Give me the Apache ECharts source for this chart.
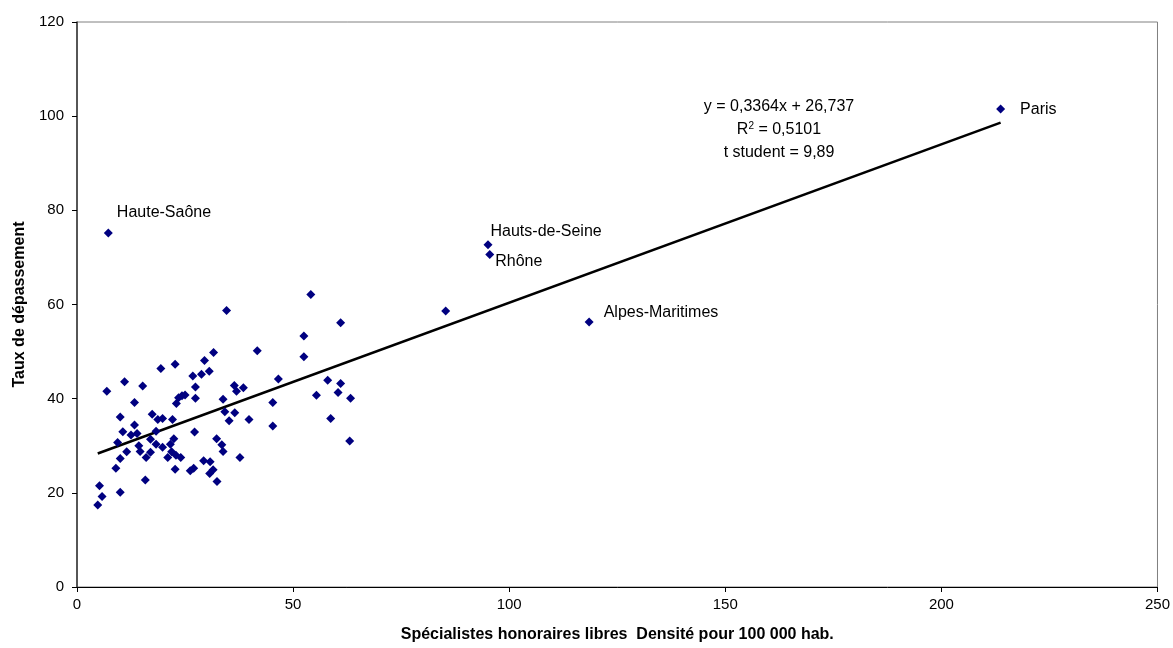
<!DOCTYPE html>
<html>
<head>
<meta charset="utf-8">
<script src="https://cdn.jsdelivr.net/npm/echarts@6/dist/echarts.min.js"></script>
<style>html,body{margin:0;padding:0;background:#fff;}#c{width:1173px;height:648px;}</style>
</head>
<body>
<div id="c"></div>
<script>
// Département points (x: spécialistes honoraires libres pour 100 000 hab., y: taux de dépassement)
const ptsX = [22.7,19.4,26.8,11.0,15.2,27.4,6.9,25.0,24.3,23.5,27.4,23.0,13.3,17.4,10.0,18.7,19.8,22.1,13.3,10.6,18.3,12.5,13.9,27.2,9.4,17.0,18.3,19.8,22.4,21.6,14.3,14.6,11.5,10.0,16.0,17.0,21.0,21.9,22.9,24.0,9.0,22.7,26.2,27.0,15.8,10.0,5.2,5.8,4.8,
  54.1,34.6,61.0,52.5,31.6,41.7,29.5,52.5,30.6,28.8,46.6,58.0,61.0,36.4,36.9,38.5,60.4,55.4,63.3,33.8,34.2,36.5,45.3,35.2,39.8,58.7,45.3,63.1,32.3,33.5,33.8,37.7,29.3,30.8,31.5,30.7,32.4,85.3];
const ptsY = [47.3,46.4,44.8,43.6,42.7,42.5,41.6,40.8,40.6,40.2,40.1,39.0,39.2,36.7,36.1,35.6,35.8,35.6,34.4,33.0,33.1,32.3,32.6,32.9,30.7,31.4,30.3,29.7,31.5,30.3,30.0,28.8,28.7,27.3,27.5,28.6,27.5,28.7,28.0,27.5,25.2,25.0,24.7,25.2,22.7,20.1,21.5,19.2,17.4,
  62.1,58.7,56.1,53.3,49.8,50.2,48.1,48.9,45.8,45.2,44.2,43.9,43.2,42.8,41.6,42.3,41.3,40.7,40.1,39.9,37.2,37.0,39.2,35.3,35.6,35.8,34.2,31.0,31.5,30.2,28.8,27.5,26.8,26.6,24.9,24.1,22.4,58.6];
// Named départements
const namedLabels = ['Haute-Saône','Hauts-de-Seine','Rhône','Alpes-Maritimes','Paris'];
const namedX = [7.25,95.1,95.5,118.5,213.7];
const namedY = [75.2,72.7,70.6,56.3,101.5];
// Linear trend line end points (y = 0,3364x + 26,737)
const trendX = [4.8, 213.7];
const trendY = [28.35, 98.63];
// Axis ticks
const xTicks = [0,50,100,150,200,250];
const yTicks = [0,20,40,60,80,100,120];
const eqLines = ['y = 0,3364x + 26,737','R{sup|2} = 0,5101','t student = 9,89'];

const labelOffsets = [[4,-20],[-2,-13],[1,7],[10,-9],[15,0]];

const chart = echarts.init(document.getElementById('c'));
const FONT = '"Liberation Sans", Arial, sans-serif';
const mainData = ptsX.map((x,i)=>[x, ptsY[i]]);
const namedData = namedX.map((x,i)=>({
  value:[x, namedY[i]], name: namedLabels[i],
  label:{show:true, position:'right', distance:labelOffsets[i][0], offset:[0,labelOffsets[i][1]],
    color:'#000', fontFamily:FONT, fontSize:16}
}));
chart.setOption({
  animation:false,
  backgroundColor:'#fff',
  grid:{left:77, right:15, top:22, bottom:60, show:true, borderColor:'#808080', borderWidth:1, backgroundColor:'transparent'},
  xAxis:{type:'value', min:xTicks[0], max:xTicks[xTicks.length-1], interval:50,
    name:'Spécialistes honoraires libres  Densité pour 100 000 hab.', nameLocation:'middle', nameGap:40,
    nameTextStyle:{fontFamily:FONT, fontSize:16, fontWeight:'bold', color:'#000'},
    axisLine:{show:true, onZero:false, lineStyle:{color:'#000', width:1}},
    axisTick:{show:true, inside:false, length:5, lineStyle:{color:'#000'}},
    axisLabel:{fontFamily:FONT, fontSize:15, color:'#000', margin:10},
    splitLine:{show:false}},
  yAxis:{type:'value', min:yTicks[0], max:yTicks[yTicks.length-1], interval:20,
    name:'Taux de dépassement', nameLocation:'middle', nameGap:48,
    nameTextStyle:{fontFamily:FONT, fontSize:16, fontWeight:'bold', color:'#000'},
    axisLine:{show:true, onZero:false, lineStyle:{color:'#333', width:1.5}},
    axisTick:{show:true, inside:false, length:5, lineStyle:{color:'#000'}},
    axisLabel:{fontFamily:FONT, fontSize:15, color:'#000', margin:13},
    splitLine:{show:false}},
  series:[
    {type:'line', data:trendX.map((x,i)=>[x,trendY[i]]), showSymbol:false, symbol:'none',
      lineStyle:{color:'#000', width:2.6}, z:2, silent:true},
    {type:'scatter', data:mainData, symbol:'diamond', symbolSize:9,
      itemStyle:{color:'#000080', opacity:1}, z:3},
    {type:'scatter', data:namedData, symbol:'diamond', symbolSize:9,
      itemStyle:{color:'#000080', opacity:1}, z:3,
      label:{show:true, formatter:'{b}', fontFamily:FONT, fontSize:16, color:'#000'}}
  ],
  graphic:[
    {type:'text', x:779, y:107, style:{text:eqLines[0], font:'16px '+FONT, fill:'#000', align:'center', verticalAlign:'middle'}},
    {type:'text', x:779, y:130, style:{text:eqLines[1], font:'16px '+FONT, fill:'#000', align:'center', verticalAlign:'middle',
      rich:{sup:{fontSize:10, fontFamily:FONT, fill:'#000', verticalAlign:'top', lineHeight:18}}}},
    {type:'text', x:779, y:153, style:{text:eqLines[2], font:'16px '+FONT, fill:'#000', align:'center', verticalAlign:'middle'}}
  ]
});
</script>
</body>
</html>
